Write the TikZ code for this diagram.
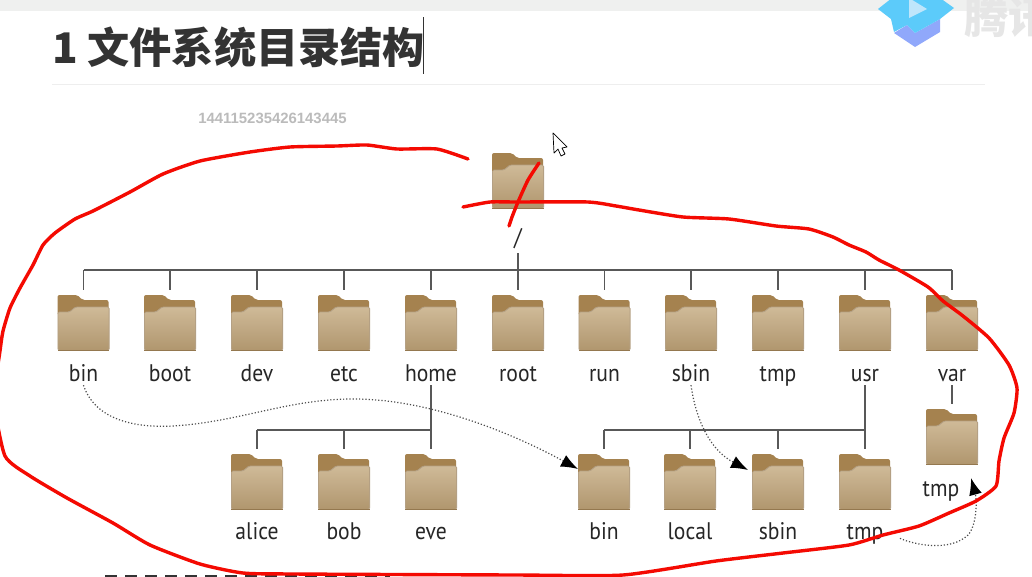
\documentclass[tikz,border=0pt]{standalone}
\usepackage{fontspec}
\setmainfont{Liberation Sans}
\newfontfamily\dirfont[FakeStretch=0.9]{PT Sans}
\newfontfamily\cjk{Noto Sans CJK SC}
\usetikzlibrary{arrows.meta}

\definecolor{barcol}{HTML}{EFF0EF}
\definecolor{rulecol}{HTML}{EEEEEE}
\definecolor{titlecol}{HTML}{333333}
\definecolor{numcol}{HTML}{BBBBBB}
\definecolor{tabcol}{HTML}{A5824F}
\definecolor{bodytop}{HTML}{CFBA98}
\definecolor{bodybot}{HTML}{B0966E}
\definecolor{edgecol}{HTML}{94784F}
\definecolor{branchcol}{HTML}{585858}
\definecolor{inkred}{HTML}{F40A02}
\definecolor{logoblue}{HTML}{5CCBFA}
\definecolor{logoplay}{HTML}{BFE6FB}
\definecolor{logopurple}{HTML}{90A8FB}
\definecolor{marklight}{HTML}{E6E6E6}

\tikzset{
    folderbox/.style={
        minimum width=52pt, minimum height=56pt, inner sep=0pt, outer sep=0pt,
        path picture={
            \begin{scope}[shift={(path picture bounding box.center)}]
                \fill[tabcol, rounded corners=2pt] (-26,-28) -- (-6,-28) -- (-1,-23) -- (25,-23) -- (25,-8) -- (-26,-8) -- cycle;
                \shade[top color=bodytop, bottom color=bodybot, draw=edgecol!70, line width=0.8pt, rounded corners=1.5pt]
                    (-25.6,-11) -- (-14,-11) -- (-8,-16) -- (25.6,-16) -- (25.6,27.5) -- (-25.6,27.5) -- cycle;
                \fill[edgecol] (-25.6,26.5) rectangle (25.6,28);
            \end{scope}
        }
    },
    dirlabel/.style={font=\dirfont\fontsize{24}{24}\selectfont, text=black!85, text height=19pt, text depth=3pt, minimum height=24pt, inner sep=0pt},
    branch/.style={draw=branchcol, line width=1.3pt},
    linkarrow/.style={draw=black!70, line width=1.2pt, dotted, -{Latex[length=17pt,width=13pt,black]}},
    redink/.style={draw=inkred, line width=3.4pt, line join=round, line cap=round}
}

\begin{document}
\begin{tikzpicture}[x=1pt,y=-1pt]
    \clip (0,0) rectangle (1032,576);
    \fill[white] (0,0) rectangle (1032,576);
    \fill[barcol] (0,0) rectangle (1032,11);

    % heading
    \node[anchor=west, inner sep=0pt, text=titlecol, font=\cjk\bfseries\fontsize{42.2}{44}\selectfont] (title) at (52,47) {1 文件系统目录结构};
    \draw[titlecol, line width=0.8pt] (423.5,17) -- (423.5,74);
    \draw[rulecol, line width=1pt] (52,84) -- (985,84);
    \node[text=numcol, font=\bfseries\fontsize{14.9}{16}\selectfont, inner sep=0pt] (number) at (272.5,118.5) {144115235426143445};

    % logo
    \fill[logopurple] (894,33) -- (907,25) -- (915,33) -- (940,19) -- (940,32) -- (915,47) -- cycle;
    \fill[logoblue] (878,9) -- (892,-2) -- (940,-2) -- (954,8) -- (940,19) -- (915,33) -- (907,25) -- (894,32) -- (891,19) -- cycle;
    \fill[logoplay] (909,-2) -- (927,9) -- (909,18) -- cycle;
    \node[anchor=west, inner sep=0pt, text=marklight, font=\cjk\bfseries\fontsize{44}{46}\selectfont] (mark) at (964,17) {腾讯};

    % first row
    \node[folderbox] (ftop) at (518,181) {};
    \node[dirlabel] (ltop) at (518,237) {/};
    \foreach \n/\x in {bin/83.5, boot/170, dev/257, etc/344, home/431, root/518, run/604.5, sbin/691, tmp/778, usr/865, var/952} {
        \node[folderbox] (f\n) at (\x,323) {};
        \node[dirlabel] (l\n) at (\x,373) {\n};
    }

    % second row
    \foreach \n/\t/\x in {alice/alice/257, bob/bob/344, eve/eve/431, ubin/bin/604, ulocal/local/690, usbin/sbin/778, utmp/tmp/865} {
        \node[folderbox] (f\n) at (\x,482) {};
        \node[dirlabel] (l\n) at (\x,531) {\t};
    }
    \node[folderbox] (fvtmp) at (952,437) {};
    \node[dirlabel] (lvtmp) at (941,488) {tmp};

    % tree lines
    \coordinate (busroot) at (518,270);
    \coordinate (bushome) at (431,430);
    \coordinate (bususr) at (865,430);
    \draw[branch, shorten <=4pt] (ltop.south) -- (busroot);
    \draw[branch] (fbin.north |- busroot) -- (fvar.north |- busroot);
    \foreach \n in {bin, boot, dev, etc, home, root, run, sbin, tmp, usr, var}
        \draw[branch, shorten >=5pt] (f\n.north |- busroot) -- (f\n.north);
    \draw[branch] (falice.north |- bushome) -- (bushome);
    \foreach \n in {alice, bob}
        \draw[branch, shorten >=5pt] (f\n.north |- bushome) -- (f\n.north);
    \draw[branch, shorten >=5pt] (lhome.south) -- (feve.north);
    \draw[branch] (fubin.north |- bususr) -- (bususr);
    \foreach \n in {ubin, ulocal, usbin}
        \draw[branch, shorten >=5pt] (f\n.north |- bususr) -- (f\n.north);
    \draw[branch, shorten >=5pt] (lusr.south) -- (futmp.north);
    \draw[branch, shorten >=5pt] (lvar.south) -- (fvtmp.north);

    % links
    \draw[linkarrow] (lbin.south) .. controls (95,420) and (135,428) .. (173,426) .. controls (240,422) and (290,398) .. (357,399) .. controls (430,400) and (510,432) .. ([yshift=-15pt]fubin.north west);
    \draw[linkarrow] (lsbin.south) .. controls (696,420) and (710,450) .. ([xshift=-4pt,yshift=-16pt]fusbin.north west);
    \draw[linkarrow, shorten <=18pt] (lutmp.east) .. controls (915,545) and (950,552) .. (968,535) .. controls (977,525) and (977,500) .. ([xshift=19pt,yshift=-13pt]fvtmp.south);

    % cut off line at the lower edge
    \draw[titlecol, line width=2pt, dash pattern=on 12pt off 8pt] (105,575.5) -- (390,575.5);

    % pen strokes
    \draw[redink] plot[smooth, tension=0.35] coordinates {(463,207) (490,202) (516,202) (588,202) (616,206) (639,210) (683,217) (729,219) (776,226) (809,229) (833,237) (849,245) (866,252) (879,260) (899,270) (928,287) (943,301) (963,316) (989,338) (1009,365) (1017,388) (1014,413) (1004,438) (999,461) (996,486) (976,501) (949,513) (919,526) (883,535) (849,545) (783,553) (716,561) (623,575) (516,575) (293,574) (243,573) (200,564) (150,545) (113,523) (67,498) (30,476) (5,456) (-6,400) (0,351) (3,331) (10,308) (20,288) (33,265) (43,245) (55,233) (75,219) (93,211) (130,192) (163,174) (200,161) (250,152) (290,147) (337,146) (367,145) (397,149) (437,149) (468,159)};
    \draw[redink] plot[smooth, tension=0.35] coordinates {(539,163) (528,180) (518,202) (512,217) (509,226)};

    % mouse pointer
    \draw[fill=white, draw=black, line width=0.7pt, line join=round] (553,133) -- (554,153) -- (558,149) -- (561,156) -- (565,154) -- (562,148) -- (567,147) -- cycle;
\end{tikzpicture}
\end{document}
